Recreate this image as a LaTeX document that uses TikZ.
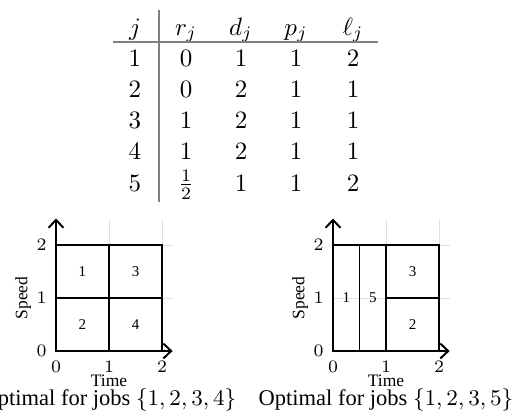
\documentclass[tikz,border=0pt]{standalone}
\usepackage[no-math]{fontspec}
\setmainfont{Liberation Serif}
\usepackage{amsmath}
\usetikzlibrary{arrows.meta}

\begin{document}
\begin{tikzpicture}[
  x=0.4pt, y=0.4pt,
  cell/.style={anchor=base, inner sep=0pt, font=\fontsize{9.6}{11}\selectfont},
  rulegray/.style={draw=gray, line width=0.6pt},
  gridline/.style={draw=gray!25, line width=0.4pt},
  axisline/.style={line width=0.8pt, -{Straight Barb[length=1.1mm, width=2.1mm]}},
  slot/.style={draw, line width=0.5pt},
  job/.style={font=\fontsize{6}{7}\selectfont},
  tick/.style={font=\fontsize{7}{8}\selectfont, inner sep=0pt},
  axlabel/.style={font=\fontsize{7}{8}\selectfont, inner sep=0pt},
  caption/.style={font=\fontsize{9}{11}\selectfont, inner sep=0pt, anchor=base}
]
\useasboundingbox (0,0) rectangle (514,416);

% table of jobs
\node[cell] (h-j) at (135,381) {$j$};
\node[cell] (h-r) at (186,381) {$r_j$};
\node[cell] (h-d) at (241,381) {$d_j$};
\node[cell] (h-p) at (296,381) {$p_j$};
\node[cell] (h-l) at (353,381) {$\ell_j$};
\foreach \j/\r/\d/\p/\l [count=\k] in {1/0/1/1/2, 2/0/2/1/1, 3/1/2/1/1, 4/1/2/1/1, 5/\frac{1}{2}/1/1/2} {
  \node[cell] (j-\k) at (135,381-31.2*\k) {$\j$};
  \node[cell] (r-\k) at (186,381-31.2*\k) {$\r$};
  \node[cell] (d-\k) at (241,381-31.2*\k) {$\d$};
  \node[cell] (p-\k) at (296,381-31.2*\k) {$\p$};
  \node[cell] (l-\k) at (353,381-31.2*\k) {$\l$};
}
\draw[rulegray] (113,374) -- (378,374);
\draw[rulegray] (159,406) -- (159,214);

% left schedule
\begin{scope}[shift={(56,65)}, x=21.2pt, y=21.2pt]
  \foreach \t in {1,2} {
    \draw[gridline] (\t,0) -- (\t,2.5);
    \draw[gridline] (0,\t) -- (2.2,\t);
  }
  \draw[slot] (0,0) rectangle (1,1);
  \draw[slot] (0,1) rectangle (1,2);
  \draw[slot] (1,0) rectangle (2,1);
  \draw[slot] (1,1) rectangle (2,2);
  \node[job] (a1) at (0.5,1.5) {1};
  \node[job] (a2) at (0.5,0.5) {2};
  \node[job] (a3) at (1.5,1.5) {3};
  \node[job] (a4) at (1.5,0.5) {4};
  \draw[axisline] (0,-0.02) -- (0,2.5);
  \draw[axisline] (-0.02,0) -- (2.2,0);
  \foreach \t in {0,1,2} {
    \node[tick] (ax\t) at (\t,-0.3) {$\t$};
    \node[tick, anchor=east] (ay\t) at (-0.17,\t) {$\t$};
  }
  \node[axlabel, anchor=base] (atime) at (1,-0.67) {Time};
  \node[axlabel, rotate=90] (aspeed) at (-0.62,1) {Speed};
  \node[caption] (acap) at (1,-1.03) {Optimal for jobs $\{1,2,3,4\}$};
\end{scope}

% right schedule
\begin{scope}[shift={(333,65)}, x=21.2pt, y=21.2pt]
  \foreach \t in {1,2} {
    \draw[gridline] (\t,0) -- (\t,2.5);
    \draw[gridline] (0,\t) -- (2.2,\t);
  }
  \draw[slot] (0,0) rectangle (0.5,2);
  \draw[slot] (0.5,0) rectangle (1,2);
  \draw[slot] (1,1) rectangle (2,2);
  \draw[slot] (1,0) rectangle (2,1);
  \node[job] (b1) at (0.25,1) {1};
  \node[job] (b5) at (0.75,1) {5};
  \node[job] (b3) at (1.5,1.5) {3};
  \node[job] (b2) at (1.5,0.5) {2};
  \draw[axisline] (0,-0.02) -- (0,2.5);
  \draw[axisline] (-0.02,0) -- (2.2,0);
  \foreach \t in {0,1,2} {
    \node[tick] (bx\t) at (\t,-0.3) {$\t$};
    \node[tick, anchor=east] (by\t) at (-0.17,\t) {$\t$};
  }
  \node[axlabel, anchor=base] (btime) at (1,-0.67) {Time};
  \node[axlabel, rotate=90] (bspeed) at (-0.62,1) {Speed};
  \node[caption] (bcap) at (1,-1.03) {Optimal for jobs $\{1,2,3,5\}$};
\end{scope}
\end{tikzpicture}
\end{document}
